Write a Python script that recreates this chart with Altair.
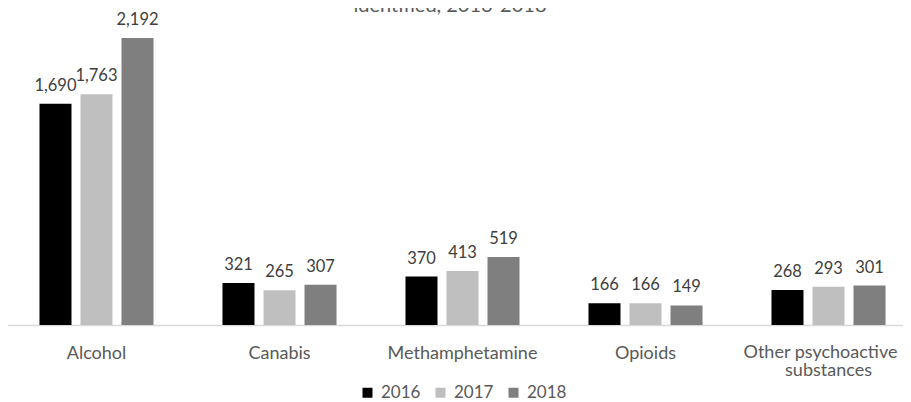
import altair as alt
import pandas as pd

categories = ["Alcohol", "Canabis", "Methamphetamine", "Opioids", "Other psychoactive substances"]
years = ["2016", "2017", "2018"]
v2016 = [1690, 321, 370, 166, 268]
v2017 = [1763, 265, 413, 166, 293]
v2018 = [2192, 307, 519, 149, 301]
colors = ["#000000", "#bfbfbf", "#7f7f7f"]
title_text = "identified, 2016-2018"
last_label_lines = ["Other psychoactive", "substances"]

rows = []
for yr, vals in zip(years, [v2016, v2017, v2018]):
    for c, v in zip(categories, vals):
        rows.append({"category": c, "year": yr, "value": v})
df = pd.DataFrame(rows)

FONT = "Lato"
W, H = 895, 317
LABEL_SIZE = 18
LABEL_COLOR = "#595959"

x_scale = alt.Scale(range=[-3, 912], paddingInner=0, paddingOuter=0)
x = alt.X(
    "category:N",
    sort=categories,
    scale=x_scale,
    axis=alt.Axis(
        title=None, labelAngle=0, ticks=False, domainColor="#d9d9d9", domainWidth=1.5,
        labelPadding=33, labelBaseline="alphabetic", labelFontSize=LABEL_SIZE, labelColor=LABEL_COLOR,
        labelFont=FONT, labelLimit=0,
        labelExpr="datum.value == 'Other psychoactive substances' ? '' : datum.value",
    ),
)
xo = alt.XOffset("year:N", sort=years, scale=alt.Scale(paddingInner=0.2195, paddingOuter=0.841))
y = alt.Y("value:Q", scale=alt.Scale(domain=[0, 2421], nice=False), axis=None)

bars = alt.Chart(df).mark_bar().encode(
    x=x, xOffset=xo, y=y,
    color=alt.Color(
        "year:N", sort=years, scale=alt.Scale(domain=years, range=colors),
        legend=alt.Legend(
            title=None, orient="none", legendX=351, legendY=376, direction="horizontal",
            symbolType="square", symbolSize=100, symbolStrokeWidth=0, labelFontSize=17,
            labelColor=LABEL_COLOR, labelFont=FONT, labelOffset=5, columnPadding=11, padding=0,
        ),
    ),
)

labels = alt.Chart(df).mark_text(
    dy=-13, baseline="alphabetic", fontSize=16.5, font=FONT, color="#404040"
).encode(x=x, xOffset=xo, y=y, text=alt.Text("value:Q", format=","))

last_df = pd.DataFrame({"category": [categories[-1]], "l1": [last_label_lines[0]], "l2": [last_label_lines[1]]})
last1 = alt.Chart(last_df).mark_text(
    baseline="alphabetic", align="center", fontSize=LABEL_SIZE, font=FONT, color=LABEL_COLOR, dx=-8
).encode(x=x, y=alt.value(350), text="l1:N")
last2 = alt.Chart(last_df).mark_text(
    baseline="alphabetic", align="center", fontSize=LABEL_SIZE, font=FONT, color=LABEL_COLOR
).encode(x=x, y=alt.value(368), text="l2:N")

title = alt.Chart(pd.DataFrame({"t": [title_text]})).mark_text(
    fontSize=20, font=FONT, color=LABEL_COLOR, baseline="alphabetic", align="center"
).encode(x=alt.value(442), y=alt.value(4), text="t:N")

chart = alt.layer(bars, labels, last1, last2, title).properties(
    width=W, height=H,
    autosize=alt.AutoSizeParams(type="none"),
    padding={"left": 0, "top": 0, "right": 0, "bottom": 77},
).configure_view(stroke=None)

chart.save("out.html", embed_options={"renderer": "svg", "actions": False})
